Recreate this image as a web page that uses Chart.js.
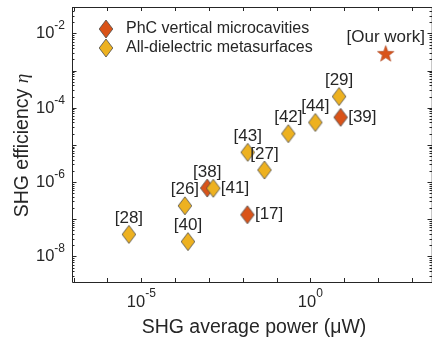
<!DOCTYPE html>
<html>
<head>
<meta charset="utf-8">
<script src="https://cdn.jsdelivr.net/npm/chart.js@4.4.1/dist/chart.umd.min.js"></script>
<style>
  html, body { margin: 0; padding: 0; background: #fff; }
  #wrap { width: 437px; height: 338px; }
</style>
</head>
<body>
<div id="wrap"><canvas id="plot_canvas"></canvas></div>
<script>
// values (log-log)
const phcLabels = ['[38]', '[17]', '[39]'];
const phcPower = [8.9e-4, 1.38e-2, 7.9];
const phcEff = [6.9e-7, 1.32e-7, 5.5e-5];

const metaLabels = ['[28]', '[26]', '[40]', '[41]', '[27]', '[43]', '[42]', '[44]', '[29]'];
const metaPower = [4.3e-6, 1.95e-4, 2.4e-4, 1.35e-3, 4.4e-2, 1.41e-2, 0.224, 1.41, 7.1];
const metaEff = [3.9e-8, 2.3e-7, 2.5e-8, 6.8e-7, 2.1e-6, 6.3e-6, 2.0e-5, 4.0e-5, 2.0e-4];

const oursLabels = ['[Our work]'];
const oursPower = [170];
const oursEff = [2.9e-3];

const xLabelExp = [-5, 0];
const yLabelExp = [-8, -6, -4, -2];

const legendNames = ['PhC vertical microcavities', 'All-dielectric metasurfaces'];

// labels that sit to the right of their marker, rest go above
const rightSide = ['[41]', '[17]', '[39]'];

const RED = '#D95319';
const YELLOW = '#EDB120';
const FONT = '"Liberation Sans", Arial, Helvetica, sans-serif';
const TXT = '#262626';

const makeDiamond = (fill) => {
    let c = document.createElement('canvas');
    c.width = 16; c.height = 20;
    let g = c.getContext('2d');
    g.beginPath();
    g.moveTo(8, 1); g.lineTo(14.8, 10); g.lineTo(8, 19); g.lineTo(1.2, 10);
    g.closePath();
    g.fillStyle = fill; g.fill();
    g.lineWidth = 0.8; g.strokeStyle = '#4a4a4a'; g.stroke();
    return c;
};
const makeStar = (fill) => {
    let c = document.createElement('canvas');
    c.width = 19; c.height = 19;
    let g = c.getContext('2d');
    g.beginPath();
    for (let i = 0; i < 10; i++) {
        let r = i % 2 === 0 ? 8.6 : 3.5;
        let a = -Math.PI / 2 + i * Math.PI / 5;
        let px = 9.5 + r * Math.cos(a), py = 10.3 + r * Math.sin(a);
        if (i === 0) g.moveTo(px, py); else g.lineTo(px, py);
    }
    g.closePath();
    g.fillStyle = fill; g.fill();
    g.lineWidth = 0.6; g.strokeStyle = '#a8401a'; g.stroke();
    return c;
};
const redDiamond = makeDiamond(RED);
const yellowDiamond = makeDiamond(YELLOW);
const redStar = makeStar(RED);

const pts = (xs, ys) => xs.map((v, i) => ({x: v, y: ys[i]}));

// 10^k with a raised exponent, centred on x or right-aligned at x
const drawPow = (ctx, exp, x, y, align) => {
    ctx.font = '16.5px ' + FONT;
    let w1 = ctx.measureText('10').width;
    ctx.font = '12px ' + FONT;
    let sup = String(exp);
    let w2 = ctx.measureText(sup).width;
    let left = align === 'right' ? x - w1 - w2 : x - (w1 + w2) / 2;
    ctx.textAlign = 'left';
    ctx.textBaseline = 'middle';
    ctx.fillStyle = TXT;
    ctx.font = '16.5px ' + FONT;
    ctx.fillText('10', left, y);
    ctx.font = '12px ' + FONT;
    ctx.fillText(sup, left + w1, y - 8);
};

const decorations = {
    id: 'decorations',
    afterDatasetsDraw(chart) {
        const ctx = chart.ctx;
        const a = chart.chartArea;
        const xs = chart.scales.x, ys = chart.scales.y;
        ctx.save();

        // frame
        ctx.lineWidth = 1;
        ctx.strokeStyle = '#262626';
        ctx.beginPath();
        ctx.moveTo(a.left + 0.5, a.top + 0.5);
        ctx.lineTo(a.left + 0.5, a.bottom + 0.5);
        ctx.lineTo(a.right, a.bottom + 0.5);
        ctx.moveTo(a.left + 0.5, a.top + 0.5);
        ctx.lineTo(a.right, a.top + 0.5);
        ctx.stroke();
        ctx.strokeStyle = '#c8c8c8';
        ctx.beginPath();
        ctx.moveTo(a.right - 0.5, a.top);
        ctx.lineTo(a.right - 0.5, a.bottom);
        ctx.stroke();

        // x ticks, one per decade, inward on bottom and top
        ctx.strokeStyle = '#262626';
        ctx.beginPath();
        for (let k = Math.ceil(Math.log10(xs.min)); k <= Math.floor(Math.log10(xs.max)); k++) {
            let px = Math.round(xs.getPixelForValue(Math.pow(10, k))) + 0.5;
            ctx.moveTo(px, a.bottom); ctx.lineTo(px, a.bottom - 4);
            ctx.moveTo(px, a.top); ctx.lineTo(px, a.top + 4);
        }
        ctx.stroke();

        // y ticks with log minors, left and right
        ctx.beginPath();
        for (let k = Math.floor(Math.log10(ys.min)); k <= Math.ceil(Math.log10(ys.max)); k++) {
            for (let m = 1; m <= 9; m++) {
                let v = m * Math.pow(10, k);
                if (v < ys.min || v > ys.max) continue;
                let py = Math.round(ys.getPixelForValue(v)) + 0.5;
                let len = m === 1 ? 4.5 : 2.5;
                ctx.moveTo(a.left, py); ctx.lineTo(a.left + len, py);
                ctx.moveTo(a.right, py); ctx.lineTo(a.right - len, py);
            }
        }
        ctx.stroke();

        // tick labels
        xLabelExp.forEach(k => drawPow(ctx, k, xs.getPixelForValue(Math.pow(10, k)), a.bottom + 20, 'center'));
        yLabelExp.forEach(k => drawPow(ctx, k, a.left - 7, ys.getPixelForValue(Math.pow(10, k)) + 0.5, 'right'));

        // axis titles
        ctx.fillStyle = TXT;
        ctx.font = '19.5px ' + FONT;
        ctx.textAlign = 'center';
        ctx.textBaseline = 'alphabetic';
        ctx.fillText('SHG average power (\u03bcW)', (a.left + a.right) / 2 + 2, 333);

        ctx.save();
        ctx.translate(28, (a.top + a.bottom) / 2 + 1);
        ctx.rotate(-Math.PI / 2);
        ctx.font = '19.5px ' + FONT;
        let t1 = 'SHG efficiency ';
        let w1 = ctx.measureText(t1).width;
        ctx.font = 'italic 19.5px "Liberation Serif", "DejaVu Serif", serif';
        let w2 = ctx.measureText('\u03b7').width;
        ctx.textAlign = 'left';
        ctx.font = '19.5px ' + FONT;
        ctx.fillText(t1, -(w1 + w2) / 2, 0);
        ctx.font = 'italic 19.5px "Liberation Serif", "DejaVu Serif", serif';
        ctx.fillText('\u03b7', -(w1 + w2) / 2 + w1, 0);
        ctx.restore();

        // point labels
        ctx.font = '17px ' + FONT;
        ctx.fillStyle = TXT;
        ctx.textBaseline = 'middle';
        chart.data.datasets.forEach((ds, i) => {
            let meta = chart.getDatasetMeta(i);
            meta.data.forEach((el, j) => {
                let lab = ds.pointLabels[j];
                if (rightSide.includes(lab)) {
                    ctx.textAlign = 'left';
                    ctx.fillText(lab, el.x + 7.5, el.y);
                } else {
                    ctx.textAlign = 'center';
                    ctx.fillText(lab, el.x, el.y - 16);
                }
            });
        });

        // legend
        ctx.drawImage(redDiamond, 106 - 8, 29 - 10);
        ctx.drawImage(yellowDiamond, 106 - 8, 48 - 10);
        ctx.font = '16px ' + FONT;
        ctx.textAlign = 'left';
        ctx.fillText(legendNames[0], 126, 29);
        ctx.fillText(legendNames[1], 126, 48);

        ctx.restore();
    }
};

const config = {
    type: 'scatter',
    data: {
        datasets: [
            {
                label: legendNames[1],
                data: pts(metaPower, metaEff),
                pointLabels: metaLabels,
                pointStyle: yellowDiamond,
                order: 2
            },
            {
                label: legendNames[0],
                data: pts(phcPower, phcEff),
                pointLabels: phcLabels,
                pointStyle: redDiamond,
                order: 3
            },
            {
                label: 'Our work',
                data: pts(oursPower, oursEff),
                pointLabels: oursLabels,
                pointStyle: redStar,
                order: 1
            }
        ]
    },
    options: {
        responsive: true,
        maintainAspectRatio: false,
        animation: false,
        layout: {padding: {left: 72, right: 2, top: 7, bottom: 56}},
        scales: {
            x: {
                type: 'logarithmic',
                display: false,
                min: Math.pow(10, -7.05),
                max: Math.pow(10, 3.6)
            },
            y: {
                type: 'logarithmic',
                display: false,
                min: Math.pow(10, -8.69),
                max: Math.pow(10, -1.29)
            }
        },
        plugins: {
            legend: {display: false},
            tooltip: {enabled: false}
        }
    },
    plugins: [decorations]
};

new Chart(document.getElementById('plot_canvas'), config);
</script>
</body>
</html>
